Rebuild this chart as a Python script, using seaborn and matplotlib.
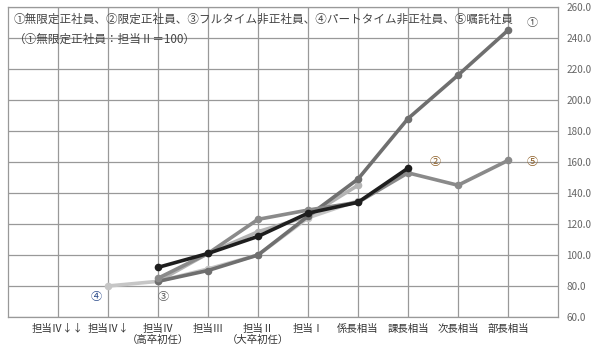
import numpy as np
import pandas as pd
import matplotlib
matplotlib.use("Agg")
import matplotlib.pyplot as plt
import seaborn as sns

# categories (x axis) and series values
categories = ["担当Ⅳ↓↓", "担当Ⅳ↓", "担当Ⅳ\n（高卒初任）", "担当Ⅲ", "担当Ⅱ\n（大卒初任）",
              "担当Ⅰ", "係長相当", "課長相当", "次長相当", "部長相当"]
nan = np.nan
s1 = [nan, nan, 83, 90, 100, 125, 149, 188, 216, 245]    # ①無限定正社員
s2 = [nan, nan, 92, 101, 112, 127, 134, 156, nan, nan]   # ②限定正社員
s3 = [nan, nan, 83, 101, 115, 125, 145, nan, nan, nan]   # ③フルタイム非正社員
s4 = [nan, 80, 83, 91, 100, 124, 135, nan, nan, nan]     # ④パートタイム非正社員
s5 = [nan, nan, 85, 101, 123, 129, 134, 153, 145, 161]   # ⑤嘱託社員
names = ["①", "②", "③", "④", "⑤"]
colors = {"①": "#6f6f6f", "②": "#1e1e1e", "③": "#b4b4b4", "④": "#c6c6c6", "⑤": "#8a8a8a"}
yticks = [60, 80, 100, 120, 140, 160, 180, 200, 220, 240, 260]

rows = []
for nm, vals in zip(names, [s1, s2, s3, s4, s5]):
    for i, v in enumerate(vals):
        if not np.isnan(v):
            rows.append({"pos": i, "value": v, "series": nm})
df = pd.DataFrame(rows)

sns.set_style("white")
plt.rcParams['font.family'] = ['Noto Sans CJK JP', 'DejaVu Sans']

fig = plt.figure(figsize=(6, 3.55), dpi=100)
ax = fig.add_axes([8/600, 1 - 317/355, 550/600, 310/355])

# draw order: light ones first, dark on top
order = ["④", "③", "①", "⑤", "②"]
for nm in order:
    sub = df[df.series == nm]
    sns.lineplot(data=sub, x="pos", y="value", color=colors[nm], marker="o",
                 markersize=5.5, markeredgewidth=0, linewidth=2.6, ax=ax,
                 legend=False, zorder=3)

ax.set_xlim(-1, 10)
ax.set_ylim(60, 260)
ax.set_xticks(range(len(categories)))
ax.set_xticklabels(categories, fontsize=7.5, color="#333333", linespacing=1.15)
ax.set_yticks(yticks)
ax.set_yticklabels([f"{t:.1f}" for t in yticks], fontsize=7.2, color="#666666")
ax.yaxis.tick_right()
ax.tick_params(axis="both", length=0, pad=5)
ax.tick_params(axis="y", pad=6)
ax.set_xlabel("")
ax.set_ylabel("")
ax.grid(True, color="#999999", linewidth=0.9)
ax.set_axisbelow(True)
for sp in ax.spines.values():
    sp.set_color("#999999")
    sp.set_linewidth(0.9)

# header text inside plot
ax.text(-0.89, 256.5, "①無限定正社員、②限定正社員、③フルタイム非正社員、④パートタイム非正社員、⑤嘱託社員",
        fontsize=8.35, color="#444444", va="top", ha="left")
ax.text(-0.89, 243.5, "（①無限定正社員：担当Ⅱ＝100）",
        fontsize=8.35, color="#444444", va="top", ha="left")

# series labels
lab_col = "#555555"
ax.text(9.48, 250, "①", fontsize=8, color=lab_col, ha="center", va="center")
ax.text(7.54, 160, "②", fontsize=8, color="#8a5a20", ha="center", va="center")
ax.text(9.48, 160, "⑤", fontsize=8, color="#8a5a20", ha="center", va="center")
ax.text(0.76, 73, "④", fontsize=8, color="#2a4a8a", ha="center", va="center")
ax.text(2.1, 73, "③", fontsize=8, color=lab_col, ha="center", va="center")

fig.savefig("out.png", dpi=100)
